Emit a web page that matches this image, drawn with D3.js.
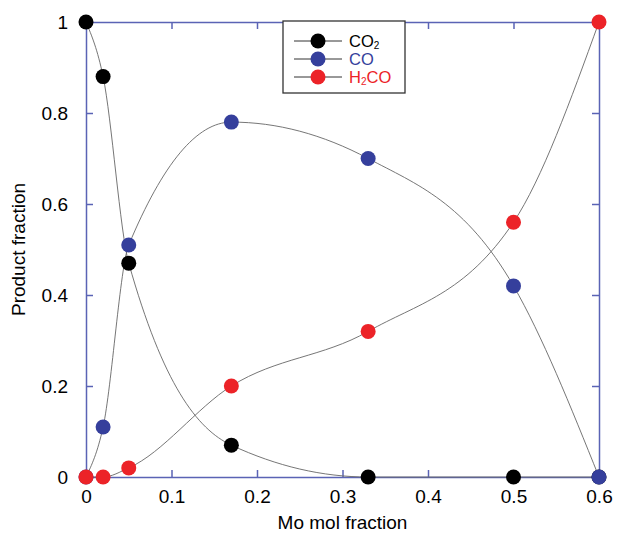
<!DOCTYPE html>
<html><head><meta charset="utf-8">
<script src="https://cdn.jsdelivr.net/npm/d3@7"></script>
<style>body{margin:0;background:#fff}svg{display:block}text{font-family:"Liberation Sans",Arial,sans-serif}</style>
</head><body>
<script>
const xValues = [0, 0.02, 0.05, 0.17, 0.33, 0.5, 0.6];
const co2 = [1, 0.88, 0.47, 0.07, 0, 0, 0];
const co = [0, 0.11, 0.51, 0.78, 0.70, 0.42, 0];
const h2co = [0, 0, 0.02, 0.20, 0.32, 0.56, 1];
const xTicks = [0, 0.1, 0.2, 0.3, 0.4, 0.5, 0.6];
const yTicks = [0, 0.2, 0.4, 0.6, 0.8, 1];
const seriesNames = ["CO2", "CO", "H2CO"];
const colors = ["#000000", "#353f9c", "#ec2328"];

const W = 617, H = 538;
const m = {l: 86, r: 18, t: 22, b: 61};
const svg = d3.select("body").append("svg").attr("width", W).attr("height", H);
const x = d3.scaleLinear().domain([0, 0.6]).range([m.l, W - m.r]);
const y = d3.scaleLinear().domain([0, 1]).range([H - m.b, m.t]);
const axisColor = "#5a63b5";
const fmt = d => d === 0 ? "0" : d === 1 ? "1" : String(d);

// frame axes
const gB = svg.append("g").attr("transform", `translate(0,${y(0)})`)
  .call(d3.axisBottom(x).tickValues(xTicks).tickSize(-7).tickPadding(13).tickFormat(fmt));
const gT = svg.append("g").attr("transform", `translate(0,${y(1)})`)
  .call(d3.axisTop(x).tickValues(xTicks).tickSize(-7).tickFormat(""));
const gL = svg.append("g").attr("transform", `translate(${x(0)},0)`)
  .call(d3.axisLeft(y).tickValues(yTicks).tickSize(-7).tickPadding(18).tickFormat(fmt));
const gR = svg.append("g").attr("transform", `translate(${x(0.6)},0)`)
  .call(d3.axisRight(y).tickValues(yTicks).tickSize(-7).tickFormat(""));
[gB, gT, gL, gR].forEach(g => {
  g.select(".domain").attr("stroke", axisColor).attr("stroke-width", 1.5);
  g.selectAll(".tick line").attr("stroke", axisColor).attr("stroke-width", 1.5);
  g.selectAll(".tick text").attr("fill", "#000").style("font-size", "19px")
   .style("font-family", '"Liberation Sans",Arial,sans-serif');
});

// axis titles
svg.append("text").attr("x", x(0.3)).attr("y", 529).attr("text-anchor", "middle")
  .style("font-size", "19px").text("Mo mol fraction");
svg.append("text").attr("transform", `translate(25,${y(0.5)}) rotate(-90)`)
  .attr("text-anchor", "middle").style("font-size", "19px").text("Product fraction");

const data = [co2, co, h2co];
const line = d3.line().x((d, i) => x(xValues[i])).y(d => y(d)).curve(d3.curveMonotoneX);
data.forEach(s => {
  svg.append("path").attr("d", line(s)).attr("fill", "none")
    .attr("stroke", "#666").attr("stroke-width", 0.9);
});
data.forEach((s, k) => {
  svg.append("g").selectAll("circle").data(s).join("circle")
    .attr("cx", (d, i) => x(xValues[i])).attr("cy", d => y(d)).attr("r", 7.5)
    .attr("fill", colors[k]);
});

// legend
const lg = svg.append("g");
lg.append("rect").attr("x", 283).attr("y", 21).attr("width", 122).attr("height", 72)
  .attr("fill", "#fff").attr("stroke", "#333").attr("stroke-width", 1.3);
const rows = [41, 59, 77];
seriesNames.forEach((n, k) => {
  lg.append("line").attr("x1", 294).attr("x2", 342).attr("y1", rows[k]).attr("y2", rows[k])
    .attr("stroke", "#333").attr("stroke-width", 1);
  lg.append("circle").attr("cx", 318).attr("cy", rows[k]).attr("r", 7.5).attr("fill", colors[k]);
  const t = lg.append("text").attr("x", 349).attr("y", rows[k] + 6).attr("fill", colors[k])
    .style("font-size", "16.5px");
  if (n === "CO2") {
    t.append("tspan").text("CO");
    t.append("tspan").attr("dy", 2).style("font-size", "10px").text("2");
  } else if (n === "H2CO") {
    t.append("tspan").text("H");
    t.append("tspan").attr("dy", 2).style("font-size", "10px").text("2");
    t.append("tspan").attr("dy", -2).text("CO");
  } else {
    t.text(n);
  }
});
</script>
</body></html>
